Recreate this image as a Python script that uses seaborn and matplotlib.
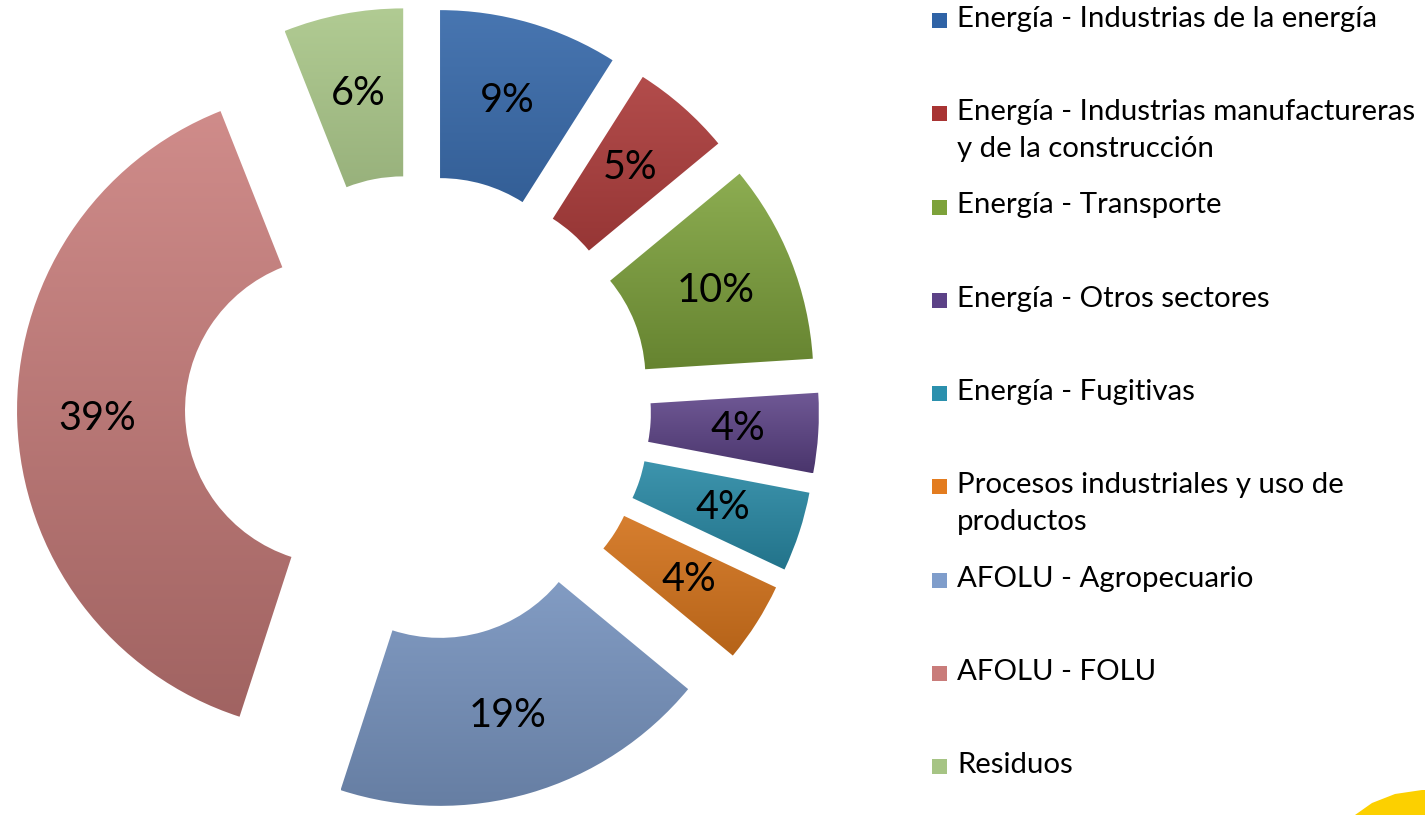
import numpy as np
import matplotlib
matplotlib.use("Agg")
import matplotlib.pyplot as plt
import matplotlib.colors as mcolors
from matplotlib.patches import Rectangle, Polygon
import seaborn as sns

# Emisiones por sector (%)
sectores = [
    "Energía - Industrias de la energía",
    "Energía - Industrias manufactureras\ny de la construcción",
    "Energía - Transporte",
    "Energía - Otros sectores",
    "Energía - Fugitivas",
    "Procesos industriales y uso de\nproductos",
    "AFOLU - Agropecuario",
    "AFOLU - FOLU",
    "Residuos",
]
porcentajes = [9, 5, 10, 4, 4, 4, 19, 39, 6]
colores = ["#2F63A6", "#A83433", "#7DA23A", "#5C4287", "#2B90AD",
           "#E37C1F", "#7F9DCB", "#C97C7A", "#A6C484"]

sns.set_theme(style="white")
plt.rcParams["font.family"] = ["Lato", "DejaVu Sans"]

W, H = 1425, 815
fig = plt.figure(figsize=(W / 100, H / 100), dpi=100)
ax = fig.add_axes([0, 0, 1, 1])
ax.set_axis_off()

palette = sns.color_palette(colores)
radio = 322
wedges, texts, pcts = ax.pie(
    porcentajes, colors=palette, startangle=90, counterclock=False,
    center=(418, 407), radius=radio, explode=[79] * len(porcentajes),
    wedgeprops=dict(width=168, linewidth=0), autopct="%.0f%%",
    pctdistance=0.75, labeldistance=None, frame=True,
    textprops=dict(fontsize=28.5, color="black"),
)

# degradado vertical dentro de cada sector
for w, c in zip(wedges, palette):
    verts = w.get_path().vertices
    x0, x1 = verts[:, 0].min(), verts[:, 0].max()
    y0, y1 = verts[:, 1].min(), verts[:, 1].max()
    base = np.array(mcolors.to_rgb(c))
    claro = base + (1 - base) * 0.12
    oscuro = base * 0.8
    t = np.linspace(0, 1, 200)[:, None, None]
    img = oscuro * (1 - t) + claro * t
    w.set_facecolor("none")
    im = ax.imshow(img, extent=(x0, x1, y0, y1), origin="lower",
                   aspect="auto", interpolation="bilinear", zorder=1)
    im.set_clip_path(w)

ax.set_xlim(0, W)
ax.set_ylim(0, H)

# leyenda
for i, (s, c) in enumerate(zip(sectores, palette)):
    yc = 20 + i * 93.25
    fig.patches.append(Rectangle(((932) / W, 1 - (yc + 8) / H), 15 / W, 15 / H,
                                 transform=fig.transFigure, facecolor=c,
                                 edgecolor="none"))
    fig.text(957 / W, 1 - (yc - 14) / H, s, fontsize=21.2, va="top", ha="left",
             linespacing=1.5, color="black")

# adorno de la diapositiva
fig.patches.append(Polygon([(1355 / W, 0), (1372 / W, 12 / H), (1395 / W, 21 / H),
                            (1422 / W, 25 / H), (1425 / W, 25 / H), (1425 / W, 0)],
                           closed=True, transform=fig.transFigure,
                           facecolor="#FCD000", edgecolor="none"))

fig.savefig("out.png", dpi=100)
